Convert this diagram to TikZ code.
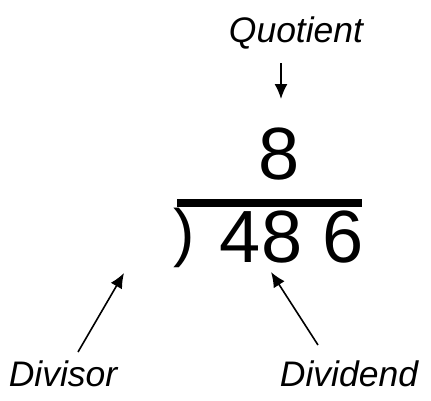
\documentclass[tikz,border=0pt]{standalone}
\usepackage{fontspec}
\setmainfont{Liberation Sans}
\usetikzlibrary{arrows.meta}

\begin{document}
\begin{tikzpicture}[
x=1pt,y=-1pt,
label/.style={
  inner sep=0pt,
  anchor=base,
  font=\fontsize{35.5}{40}\selectfont\itshape
  },
digits/.style={
  inner sep=0pt,
  anchor=base,
  font=\fontsize{74}{80}\selectfont
  },
pointer/.style={
  ->,
  line width=1.6pt
  },
>={Latex[length=15pt,width=13pt]}
]
\useasboundingbox (0,0) rectangle (431,400);
% labels
\node[label] (quo) at (296,42.5) {Quotient};
\node[label] (dvs) at (63,386) {Divisor};
\node[label] (dvd) at (349,386) {Dividend};
% the division
\node[digits] (q8) at (279.5,179) {8};
\node[digits] (num) at (292,262) {48 6};
\node[inner sep=0pt,anchor=base,font=\fontsize{64}{70}\selectfont] (paren) at (184,254) {)};
\draw[line width=8pt] (177,203) coordinate (barl) -- (362,203) coordinate (barr);
% arrows
\coordinate (qs) at (281,63);
\coordinate (qe) at (281,99);
\coordinate (vs) at (78,352);
\coordinate (ve) at (124,273);
\coordinate (ds) at (318,345);
\coordinate (de) at (271,272);
\draw[pointer] (qs) -- (qe);
\draw[pointer] (vs) -- (ve);
\draw[pointer] (ds) -- (de);
\end{tikzpicture}
\end{document}
